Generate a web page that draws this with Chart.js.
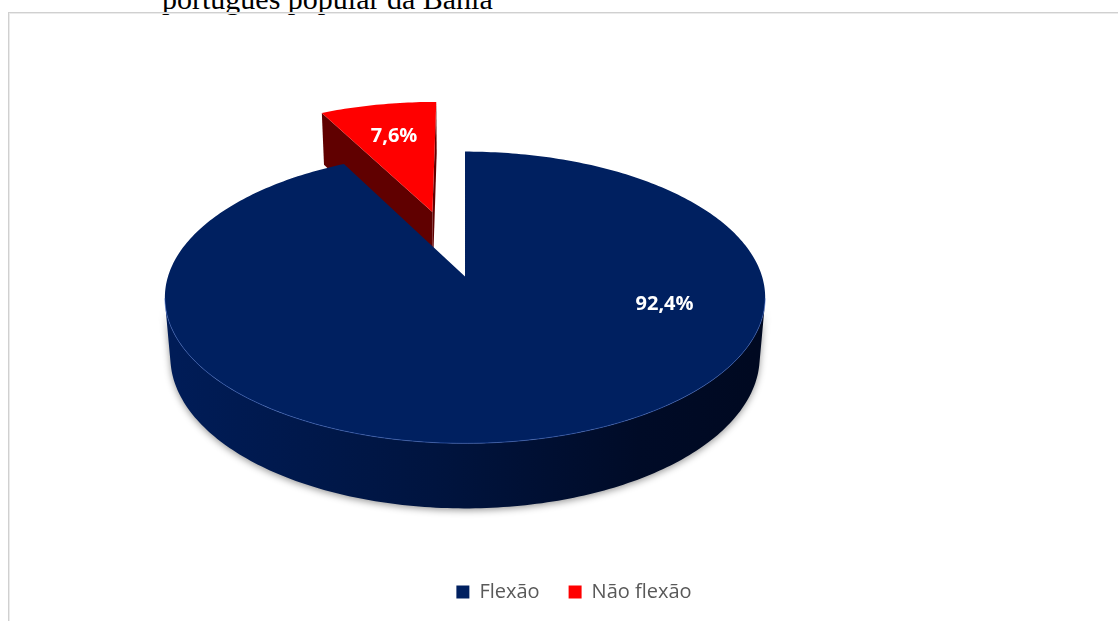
<!DOCTYPE html>
<html lang="pt">
<head>
<meta charset="utf-8">
<script src="https://cdn.jsdelivr.net/npm/chart.js@4.4.1/dist/chart.umd.min.js"></script>
<style>
  html, body { margin: 0; width: 1118px; height: 621px; overflow: hidden; background: #fff; }
  #titulo {
    position: absolute; left: 162px; top: -16px;
    font: 30px "Liberation Serif", "Times New Roman", serif; line-height: 1;
    color: #000; white-space: nowrap;
  }
  #moldura {
    position: absolute; left: 8px; top: 12px; width: 1300px; height: 800px;
    border: 1px solid #d0d0d0; box-shadow: inset 1px 1px 0 #ebebeb;
  }
  #grafico { position: absolute; left: 9px; top: 0; }
</style>
</head>
<body>
<div id="titulo">português popular da Bahia</div>
<div id="moldura"></div>
<canvas id="grafico" width="1130" height="621"></canvas>
<script>
const categorias = ["Flexão", "Não flexão"];
const percentuais = [92.4, 7.6];
const destaque = [0, 110];            // fatia "Não flexão" afastada do centro
const coresTopo = ["#002060", "#ff0000"];
const coresCorte = ["#001a50", "#600000"];
const gradLateral = [
  ["#001c57", "#00143f", "#000b27", "#000921"],
  ["#8a0000", "#600000", "#3a0000", "#2a0000"]
];

// pizza em 3D: usa os ângulos e o raio calculados pelo Chart.js e projeta em perspectiva
const pizza3d = {
  id: "pizza3d",
  beforeDatasetsDraw(chart, args, opts) {
    const arcs = chart.getDatasetMeta(0).data;
    if (!arcs.length) return false;
    const ctx = chart.ctx;
    const R = arcs[0].outerRadius;
    const phi = opts.elevacao * Math.PI / 180;
    const s = Math.sin(phi), c = Math.cos(phi);
    const per = opts.perspectiva;
    const a = c * per, b = s * per;
    const cx = arcs[0].x + opts.deslocX * R;
    const cy = arcs[0].y;
    const K = opts.escala * R;
    const T = opts.espessura;
    const camY = c / per;

    const P = (X, Y, Z) => {
      const w = 1 - a * Y - b * Z;
      return [cx + K * X / w, cy + K * (s * Y - c * Z) / w];
    };
    const arco = (f, Z, t0, t1) => {
      const n = Math.max(8, Math.ceil(Math.abs(t1 - t0) * 60));
      const pts = [];
      for (let k = 0; k <= n; k++) {
        const t = t0 + (t1 - t0) * k / n;
        pts.push(P(f.ox + Math.cos(t), f.oy + Math.sin(t), Z));
      }
      return pts;
    };
    const poligono = (pts) => {
      ctx.beginPath();
      pts.forEach((p, k) => k ? ctx.lineTo(p[0], p[1]) : ctx.moveTo(p[0], p[1]));
      ctx.closePath();
    };

    const fatias = arcs.map((arc, i) => {
      const meio = (arc.startAngle + arc.endAngle) / 2;
      const e = (arc.options.offset || 0) / R;
      return { i, a0: arc.startAngle, a1: arc.endAngle, meio,
               ox: e * Math.cos(meio), oy: e * Math.sin(meio) };
    });
    // de trás para frente
    const ordem = fatias.slice().sort((p, q) => p.oy - q.oy);

    ordem.forEach(f => {
      // parede externa: só a parte voltada para o observador
      const frente = t => -(f.ox + Math.cos(t)) * Math.cos(t) + (camY - f.oy - Math.sin(t)) * Math.sin(t) > 0;
      let t0 = null, t1 = null;
      const n = 720;
      for (let k = 0; k <= n; k++) {
        const t = f.a0 + (f.a1 - f.a0) * k / n;
        if (frente(t)) { if (t0 === null) t0 = t; t1 = t; }
      }
      if (t0 !== null && t1 > t0) {
        const topo = arco(f, 0, t0, t1);
        const base = arco(f, -T, t1, t0);
        const xa = P(f.ox - 1, f.oy, -T)[0], xb = P(f.ox + 1, f.oy, -T)[0];
        const g = ctx.createLinearGradient(xa, 0, xb, 0);
        const cs = gradLateral[f.i];
        g.addColorStop(0, cs[0]); g.addColorStop(0.45, cs[1]);
        g.addColorStop(0.8, cs[2]); g.addColorStop(1, cs[3]);
        ctx.save();
        ctx.shadowColor = "rgba(0,0,0,0.4)";
        ctx.shadowBlur = 7;
        ctx.shadowOffsetY = 2;
        poligono(topo.concat(base));
        ctx.fillStyle = g;
        ctx.fill();
        ctx.restore();
      }

      // paredes de corte (raios)
      const cortes = [
        { t: f.a0, nx: Math.sin(f.a0), ny: -Math.cos(f.a0) },
        { t: f.a1, nx: -Math.sin(f.a1), ny: Math.cos(f.a1) }
      ];
      cortes.forEach(k => {
        if ((0 - f.ox) * k.nx + (camY - f.oy) * k.ny <= 0) return;
        const bx = f.ox + Math.cos(k.t), by = f.oy + Math.sin(k.t);
        poligono([P(f.ox, f.oy, 0), P(bx, by, 0), P(bx, by, -T), P(f.ox, f.oy, -T)]);
        ctx.fillStyle = coresCorte[f.i];
        ctx.fill();
      });

      // face superior
      poligono([P(f.ox, f.oy, 0)].concat(arco(f, 0, f.a0, f.a1)));
      ctx.fillStyle = coresTopo[f.i];
      ctx.fill();

      // brilho na borda frontal
      const b0 = Math.max(f.a0, 0.15), b1 = Math.min(f.a1, Math.PI - 0.15);
      if (b1 > b0) {
        const brilho = arco(f, 0, b0, b1);
        ctx.beginPath();
        brilho.forEach((p, k) => k ? ctx.lineTo(p[0], p[1]) : ctx.moveTo(p[0], p[1]));
        ctx.strokeStyle = "rgba(70,110,200,0.55)";
        ctx.lineWidth = 1;
        ctx.stroke();
      }
    });

    // rótulos de percentual
    ctx.save();
    ctx.font = "bold 20px 'Open Sans'";
    ctx.fillStyle = "#ffffff";
    ctx.textAlign = "center";
    ctx.textBaseline = "middle";
    fatias.forEach(f => {
      const ang = opts.angulosRotulo[f.i] == null ? f.meio : opts.angulosRotulo[f.i] * Math.PI / 180;
      const r = opts.raioRotulo;
      const p = P(f.ox + r * Math.cos(ang), f.oy + r * Math.sin(ang), 0);
      const txt = percentuais[f.i].toFixed(1).replace(".", ",") + "%";
      ctx.fillText(txt, p[0], p[1]);
    });
    ctx.restore();
    return false;
  }
};

new Chart(document.getElementById("grafico"), {
  type: "pie",
  data: {
    labels: categorias,
    datasets: [{
      data: percentuais,
      backgroundColor: coresTopo,
      borderWidth: 0,
      offset: destaque,
      hoverOffset: 0
    }]
  },
  options: {
    responsive: false,
    animation: false,
    events: [],
    layout: { padding: { bottom: 9 } },
    plugins: {
      tooltip: { enabled: false },
      legend: {
        position: "bottom",
        labels: {
          boxWidth: 13,
          boxHeight: 13,
          padding: 29,
          color: "#595959",
          font: { family: "'Open Sans'", size: 20 }
        }
      },
      pizza3d: {
        elevacao: 28.75,
        perspectiva: 0.164,
        espessura: 0.23,
        escala: 1.341,
        deslocX: -0.492,
        raioRotulo: 0.68,
        angulosRotulo: [16, null]
      }
    }
  },
  plugins: [pizza3d]
});
</script>
</body>
</html>
